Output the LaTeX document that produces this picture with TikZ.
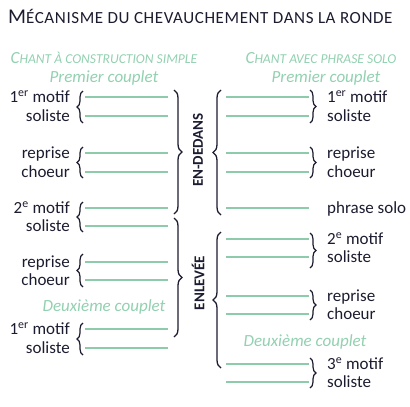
\documentclass[tikz,border=0pt]{standalone}
\usepackage{fontspec}
\setmainfont{Carlito}
\usetikzlibrary{decorations.pathreplacing}
\definecolor{ink}{RGB}{28,28,48}
\definecolor{mint}{RGB}{141,203,170}
\definecolor{minttext}{RGB}{146,208,176}
\newcommand{\bigf}{\fontsize{21}{22}\selectfont}
\newcommand{\smf}{\fontsize{17}{18}\selectfont\addfontfeature{LetterSpace=3.5}}
\tikzset{
  lbl/.style={font=\fontsize{17}{20}\selectfont, text=ink, inner sep=0pt},
  gtxt/.style={font=\fontsize{17}{20}\selectfont\itshape, text=minttext, inner sep=0pt},
  mintline/.style={draw=mint, line width=2.2pt},
  sbrace/.style={draw=ink, line width=1.2pt, decorate, decoration={brace, amplitude=6pt}},
  bbrace/.style={draw=ink, line width=1.3pt, decorate, decoration={brace, amplitude=8pt}},
  vlbl/.style={font=\fontsize{15}{16}\selectfont\bfseries, text=ink, inner sep=0pt, rotate=90},
}
\begin{document}
\begin{tikzpicture}[x=1pt, y=-1pt]
\useasboundingbox (0,0) rectangle (410,407);
% title
\node[anchor=base west, inner sep=0pt, text=ink] (title) at (8,23)
  {{\bigf M}{\smf ÉCANISME DU CHEVAUCHEMENT DANS LA RONDE}};
% subheads
\node[anchor=base, inner sep=0pt, text=minttext, font=\itshape] (subL) at (104,63)
  {{\fontsize{17}{18}\selectfont C}{\fontsize{13.6}{15}\selectfont HANT À CONSTRUCTION SIMPLE}};
\node[anchor=base, inner sep=0pt, text=minttext, font=\itshape] (subR) at (321,63)
  {{\fontsize{17}{18}\selectfont C}{\fontsize{13.6}{15}\selectfont HANT AVEC PHRASE SOLO}};
\node[gtxt, anchor=base] (pcL) at (104,82) {Premier couplet};
\node[gtxt, anchor=base] (pcR) at (326,82) {Premier couplet};
\node[gtxt, anchor=base] (dcL) at (104,311.5) {Deuxième couplet};
\node[gtxt, anchor=base] (dcR) at (305,346.5) {Deuxième couplet};

% left lines
\foreach \y [count=\i] in {97,116,153,172,208,226,262,280,329,348} {
  \coordinate (la\i) at (85,\y);
  \coordinate (lb\i) at (168,\y);
  \draw[mintline] (la\i) -- (lb\i);
}
% right lines
\foreach \y [count=\i] in {97,116,153,172,208,239,257,296,314,364,382} {
  \coordinate (ra\i) at (226,\y);
  \coordinate (rb\i) at (309,\y);
  \draw[mintline] (ra\i) -- (rb\i);
}

% left labels
\node[lbl, anchor=base east] (l1) at (70,102.5) {1\textsuperscript{er} motif};
\node[lbl, anchor=base east] (l2) at (70,121.5) {soliste};
\node[lbl, anchor=base east] (l3) at (70,158.5) {reprise};
\node[lbl, anchor=base east] (l4) at (70,177.5) {choeur};
\node[lbl, anchor=base east] (l5) at (70,213.5) {2\textsuperscript{e} motif};
\node[lbl, anchor=base east] (l6) at (70,231.5) {soliste};
\node[lbl, anchor=base east] (l7) at (70,267.5) {reprise};
\node[lbl, anchor=base east] (l8) at (70,285.5) {choeur};
\node[lbl, anchor=base east] (l9) at (70,334.5) {1\textsuperscript{er} motif};
\node[lbl, anchor=base east] (l10) at (70,353.5) {soliste};

% right labels
\node[lbl, anchor=base west] (r1) at (327,102.5) {1\textsuperscript{er} motif};
\node[lbl, anchor=base west] (r2) at (327,121.5) {soliste};
\node[lbl, anchor=base west] (r3) at (327,158.5) {reprise};
\node[lbl, anchor=base west] (r4) at (327,177.5) {choeur};
\node[lbl, anchor=base west] (r5) at (327,213.5) {phrase solo};
\node[lbl, anchor=base west] (r6) at (327,244.5) {2\textsuperscript{e} motif};
\node[lbl, anchor=base west] (r7) at (327,262.5) {soliste};
\node[lbl, anchor=base west] (r8) at (327,301.5) {reprise};
\node[lbl, anchor=base west] (r9) at (327,319.5) {choeur};
\node[lbl, anchor=base west] (r10) at (327,369.5) {3\textsuperscript{e} motif};
\node[lbl, anchor=base west] (r11) at (327,387.5) {soliste};

% left small braces
\foreach \a/\b [count=\i] in {123/91,178/147,232/202,287/254,355/323} {
  \coordinate (lsb\i) at (83,\a);
  \coordinate (lst\i) at (83,\b);
  \draw[sbrace] (lsb\i) -- (lst\i);
}
% right small braces
\foreach \a/\b [count=\i] in {90/123,147/178,233/268,290/320,358/388} {
  \coordinate (rst\i) at (310,\a);
  \coordinate (rsb\i) at (310,\b);
  \draw[sbrace] (rst\i) -- (rsb\i);
}
% big braces
\coordinate (bl1t) at (174,90);  \coordinate (bl1b) at (174,214);
\coordinate (bl2t) at (174,218); \coordinate (bl2b) at (174,337);
\coordinate (br1t) at (221,90);  \coordinate (br1b) at (221,215);
\coordinate (br2t) at (221,232); \coordinate (br2b) at (221,368);
\draw[bbrace] (bl1t) -- (bl1b);
\draw[bbrace] (bl2t) -- (bl2b);
\draw[bbrace] (br1b) -- (br1t);
\draw[bbrace] (br2b) -- (br2t);

\node[vlbl] (endedans) at (198,150) {EN-DEDANS};
\node[vlbl] (enlevee) at (198,283) {ENLEVÉE};
\end{tikzpicture}
\end{document}
